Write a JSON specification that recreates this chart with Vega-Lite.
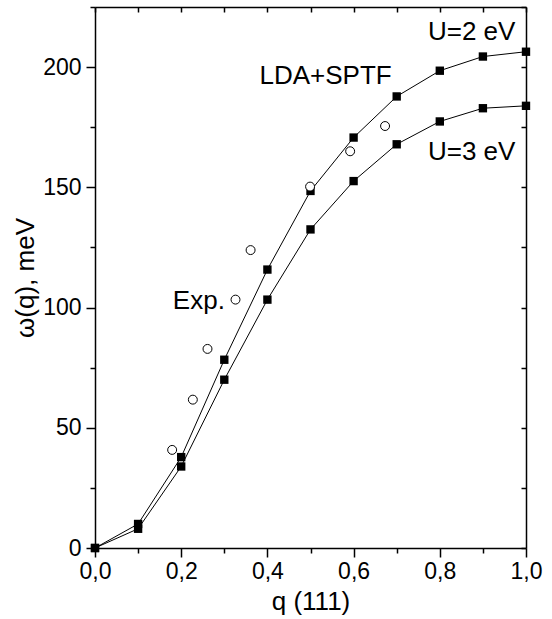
{
  "$schema": "https://vega.github.io/schema/vega-lite/v6.json",
  "autosize": "none",
  "width": 431,
  "height": 541,
  "padding": {"left": 95, "top": 7, "right": 26, "bottom": 71},
  "background": "white",
  "config": {
    "view": {"stroke": null},
    "font": "Liberation Sans",
    "axis": {
      "grid": false,
      "domainColor": "black",
      "domainWidth": 1.5,
      "tickColor": "black",
      "tickWidth": 1.5,
      "labelColor": "black",
      "labelFont": "Liberation Sans",
      "labelFontSize": 23,
      "titleFont": "Liberation Sans",
      "titleFontSize": 26,
      "titleFontWeight": "normal",
      "titleColor": "black"
    }
  },
  "datasets": {
    "pts": [
      {"q": 0.0, "w": 0, "s": "U2"},
      {"q": 0.1, "w": 10, "s": "U2"},
      {"q": 0.2, "w": 37.8, "s": "U2"},
      {"q": 0.3, "w": 78.3, "s": "U2"},
      {"q": 0.4, "w": 115.8, "s": "U2"},
      {"q": 0.5, "w": 148.5, "s": "U2"},
      {"q": 0.6, "w": 170.7, "s": "U2"},
      {"q": 0.7, "w": 187.8, "s": "U2"},
      {"q": 0.8, "w": 198.5, "s": "U2"},
      {"q": 0.9, "w": 204.4, "s": "U2"},
      {"q": 1.0, "w": 206.4, "s": "U2"},
      {"q": 0.0, "w": 0, "s": "U3"},
      {"q": 0.1, "w": 8, "s": "U3"},
      {"q": 0.2, "w": 33.9, "s": "U3"},
      {"q": 0.3, "w": 70, "s": "U3"},
      {"q": 0.4, "w": 103.3, "s": "U3"},
      {"q": 0.5, "w": 132.5, "s": "U3"},
      {"q": 0.6, "w": 152.6, "s": "U3"},
      {"q": 0.7, "w": 167.9, "s": "U3"},
      {"q": 0.8, "w": 177.4, "s": "U3"},
      {"q": 0.9, "w": 182.9, "s": "U3"},
      {"q": 1.0, "w": 183.9, "s": "U3"}
    ],
    "exp": [
      {"q": 0.179, "w": 40.8},
      {"q": 0.227, "w": 61.7},
      {"q": 0.261, "w": 82.8},
      {"q": 0.326, "w": 103.3},
      {"q": 0.361, "w": 123.9},
      {"q": 0.499, "w": 150.3},
      {"q": 0.592, "w": 165},
      {"q": 0.673, "w": 175.5}
    ],
    "labels": [
      {"q": 0.874, "w": 214.5, "t": "U=2 eV"},
      {"q": 0.535, "w": 196.4, "t": "LDA+SPTF"},
      {"q": 0.874, "w": 164.6, "t": "U=3 eV"},
      {"q": 0.241, "w": 102.8, "t": "Exp."}
    ]
  },
  "resolve": {"axis": {"x": "independent", "y": "independent"}},
  "layer": [
    {
      "data": {"name": "pts"},
      "mark": {"type": "line", "color": "black", "strokeWidth": 1},
      "encoding": {
        "x": {
          "field": "q", "type": "quantitative",
          "scale": {"domain": [0, 1], "nice": false, "zero": false},
          "axis": {
            "orient": "bottom",
            "title": "q (111)",
            "values": [0, 0.1, 0.2, 0.3, 0.4, 0.5, 0.6, 0.7, 0.8, 0.9, 1.0],
            "labelExpr": "round(datum.value*10) % 2 === 0 ? replace(format(datum.value, '.1f'), '.', ',') : ''",
            "tickSize": {"condition": {"test": "round(datum.value*10) % 2 === 0", "value": 9}, "value": 5},
            "labelPadding": 3,
            "titlePadding": 5,
            "labelFlush": false,
            "labelOverlap": false
          }
        },
        "y": {
          "field": "w", "type": "quantitative",
          "scale": {"domain": [0, 225], "nice": false},
          "axis": {
            "orient": "left",
            "title": "ω(q), meV",
            "values": [0, 25, 50, 75, 100, 125, 150, 175, 200, 225],
            "labelExpr": "round(datum.value) % 50 === 0 ? format(datum.value, 'd') : ''",
            "tickSize": {"condition": {"test": "round(datum.value) % 50 === 0", "value": 9}, "value": 5},
            "labelPadding": 5,
            "titlePadding": 4,
            "labelFlush": false,
            "labelOverlap": false
          }
        },
        "detail": {"field": "s"}
      }
    },
    {
      "data": {"name": "pts"},
      "mark": {"type": "square", "color": "black", "filled": true, "size": 70, "opacity": 1, "clip": false},
      "encoding": {
        "x": {"field": "q", "type": "quantitative", "axis": null},
        "y": {"field": "w", "type": "quantitative", "axis": null}
      }
    },
    {
      "data": {"name": "exp"},
      "mark": {"type": "point", "shape": "circle", "stroke": "black", "fill": "white", "filled": false, "strokeWidth": 1, "size": 80, "opacity": 1},
      "encoding": {
        "x": {"field": "q", "type": "quantitative", "axis": null},
        "y": {"field": "w", "type": "quantitative", "axis": null}
      }
    },
    {
      "data": {"name": "labels"},
      "mark": {"type": "text", "font": "Liberation Sans", "fontSize": 26, "color": "black", "align": "center", "baseline": "middle"},
      "encoding": {
        "x": {
          "field": "q", "type": "quantitative",
          "axis": {
            "orient": "top", "title": null, "labels": false,
            "values": [0, 0.1, 0.2, 0.3, 0.4, 0.5, 0.6, 0.7, 0.8, 0.9, 1.0],
            "tickSize": -5
          }
        },
        "y": {
          "field": "w", "type": "quantitative",
          "axis": {
            "orient": "right", "title": null, "labels": false,
            "values": [0, 25, 50, 75, 100, 125, 150, 175, 200, 225],
            "tickSize": -5
          }
        },
        "text": {"field": "t"}
      }
    }
  ]
}
